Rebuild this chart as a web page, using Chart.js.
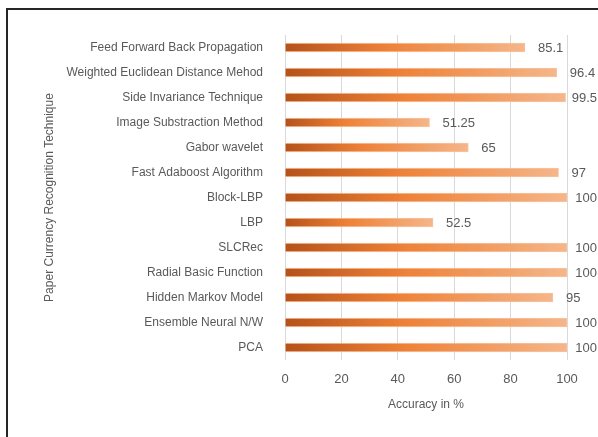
<!DOCTYPE html>
<html>
<head>
<meta charset="utf-8">
<script src="https://cdn.jsdelivr.net/npm/chart.js@4.4.0/dist/chart.umd.min.js"></script>
<style>
  html, body { margin: 0; padding: 0; background: #fff; overflow: hidden; }
  #wrap { position: relative; width: 598px; height: 437px; }
  #frame { position: absolute; left: 6px; top: 8px; width: 620px; height: 460px;
           border-left: 2px solid #262626; border-top: 2px solid #262626; pointer-events: none; }
</style>
</head>
<body>
<div id="wrap">
  <canvas id="grafico" width="598" height="437"></canvas>
  <div id="frame"></div>
</div>
<script>
// ------------- dati -------------
const tecniche = [
  'Feed Forward Back Propagation',
  'Weighted Euclidean Distance Mehod',
  'Side Invariance Technique',
  'Image Substraction Method',
  'Gabor wavelet',
  'Fast Adaboost Algorithm',
  'Block-LBP',
  'LBP',
  'SLCRec',
  'Radial Basic Function',
  'Hidden Markov Model',
  'Ensemble Neural N/W',
  'PCA'
];
const accuratezza = [85.1, 96.4, 99.5, 51.25, 65, 97, 100, 52.5, 100, 100, 95, 100, 100];
const tickX = [0, 20, 40, 60, 80, 100];
// ------------- dati -------------

const grigio = '#595959';
const font = "'Liberation Sans', Arial, sans-serif";

// gradient along each bar, from the 0 line to its end
function sfumatura(ctx) {
  const chart = ctx.chart;
  const xs = chart.scales.x;
  if (!chart.chartArea || !xs) return '#ed7d31';
  const x0 = xs.getPixelForValue(0);
  const x1 = xs.getPixelForValue(ctx.dataset.data[ctx.dataIndex]);
  const g = chart.ctx.createLinearGradient(x0, 0, x1, 0);
  g.addColorStop(0, '#b5521a');
  g.addColorStop(0.42, '#ee8137');
  g.addColorStop(1, '#f5b68a');
  return g;
}

// value labels right of the bars (kept inside the canvas like Excel does)
const etichette = {
  id: 'etichette',
  afterDatasetsDraw(chart) {
    const c = chart.ctx;
    const meta = chart.getDatasetMeta(0);
    c.save();
    c.font = '13px ' + font;
    c.fillStyle = grigio;
    c.textAlign = 'left';
    c.textBaseline = 'middle';
    meta.data.forEach((bar, i) => {
      const txt = String(accuratezza[i]);
      const w = c.measureText(txt).width;
      const x = Math.min(bar.x + 13, chart.width - 1 - w);
      c.fillText(txt, x, bar.y + 1);
    });
    c.restore();
  }
};

const ctx = document.getElementById('grafico').getContext('2d');
const chart = new Chart(ctx, {
  type: 'bar',
  data: {
    labels: tecniche,
    datasets: [{
      data: accuratezza,
      backgroundColor: sfumatura,
      borderColor: 'rgba(246,190,150,0.9)',
      borderWidth: 1,
      barThickness: 9
    }]
  },
  options: {
    indexAxis: 'y',
    responsive: false,
    animation: false,
    layout: { padding: { left: 38, right: 31, top: 35, bottom: 21 } },
    plugins: { legend: { display: false }, tooltip: { enabled: false } },
    scales: {
      x: {
        min: 0, max: 100,
        afterBuildTicks: (s) => { s.ticks = tickX.map(v => ({ value: v })); },
        grid: { color: '#d9d9d9', drawTicks: false, lineWidth: 1 },
        border: { display: false },
        ticks: { color: grigio, font: { family: font, size: 13, lineHeight: 1 }, padding: 13 },
        title: { display: true, text: 'Accuracy in %', color: grigio,
                 font: { family: font, size: 12, lineHeight: 1 }, padding: { top: 0, bottom: 5 } }
      },
      y: {
        afterFit: (s) => { s.width = 247; },
        grid: { display: false },
        border: { display: false },
        ticks: { color: grigio, font: { family: font, size: 12 }, padding: 14 },
        title: { display: true, text: 'Paper Currency Recognition Technique', color: grigio,
                 font: { family: font, size: 12 }, padding: { top: 4, bottom: 4 } }
      }
    }
  },
  plugins: [etichette]
});
</script>
</body>
</html>
